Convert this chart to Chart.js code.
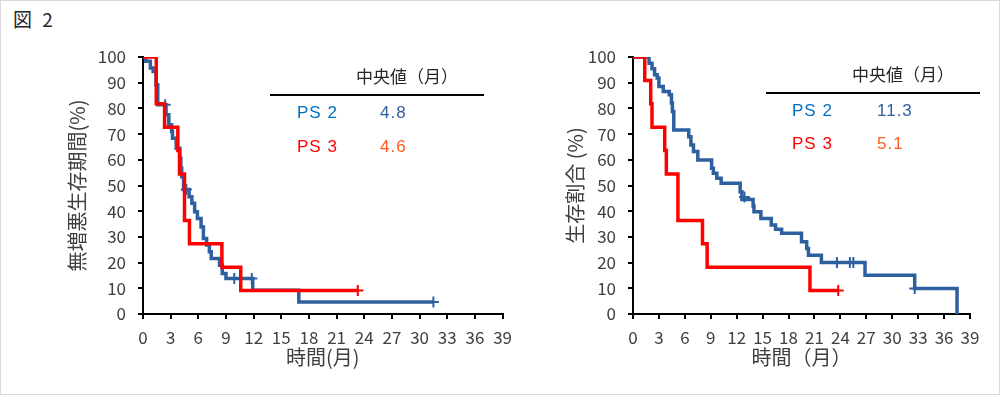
<!DOCTYPE html>
<html>
<head>
<meta charset="utf-8">
<script src="https://cdn.jsdelivr.net/npm/chart.js@4.4.1/dist/chart.umd.min.js"></script>
<style>
    body { margin: 0; background: #fff; }
    #page { position: relative; width: 1000px; height: 395px; overflow: hidden; font-family: 'Noto Sans CJK JP', sans-serif; }
    #frame { position: absolute; left: 0; top: 0; width: 1000px; height: 395px; box-sizing: border-box; border: 1px solid #d9d9d9; pointer-events: none; }
    #fig-title { position: absolute; left: 13px; top: 7px; font-size: 19px; line-height: 24px; color: #262626; word-spacing: 6px; }
    .wrap { position: absolute; top: 0; }
    .head { position: absolute; font-size: 17px; line-height: 20px; color: #262626; white-space: nowrap; }
    .rule { position: absolute; height: 2px; background: #000; }
    .cell { position: absolute; font-family: 'Liberation Sans', Arial, sans-serif; font-size: 17px; line-height: 20px; letter-spacing: 1px; white-space: nowrap; }
</style>
</head>
<body>
<div id="page">
    <div id="fig-title">図 2</div>
    <div class="wrap" style="left:0;"><canvas id="pfs-graph" width="520" height="395"></canvas></div>
    <div class="wrap" style="left:500px;"><canvas id="os-graph" width="500" height="395"></canvas></div>

    <div class="head" style="left:356px; top:66px;">中央値（月）</div>
    <div class="rule" style="left:270px; top:94px; width:214px;"></div>
    <div class="cell" id="pfs-ps2-label" style="left:297px; top:103px; color:#0070c0;"></div>
    <div class="cell" id="pfs-ps2-median" style="left:380px; top:103px; color:#2e5f9f;"></div>
    <div class="cell" id="pfs-ps3-label" style="left:297px; top:137px; color:#ff0000;"></div>
    <div class="cell" id="pfs-ps3-median" style="left:380px; top:137px; color:#ff5a1e;"></div>

    <div class="head" style="left:852px; top:64px;">中央値（月）</div>
    <div class="rule" style="left:766px; top:92px; width:214px;"></div>
    <div class="cell" id="os-ps2-label" style="left:792px; top:101px; color:#0070c0;"></div>
    <div class="cell" id="os-ps2-median" style="left:877px; top:101px; color:#2e5f9f;"></div>
    <div class="cell" id="os-ps3-label" style="left:792px; top:134px; color:#ff0000;"></div>
    <div class="cell" id="os-ps3-median" style="left:877px; top:134px; color:#ff5a1e;"></div>
    <div id="frame"></div>
</div>
<script>
const group_labels = ['PS 2', 'PS 3'];
const pfs_medians = ['4.8', '4.6'];
const os_medians = ['11.3', '5.1'];

const x_ticks_max = 39;
const x_ticks_step = 3;
const y_ticks_max = 100;
const y_ticks_step = 10;

// progression-free survival, PS 2 (time in months, % after each step)
const pfs_ps2_time = [0, 0.3, 0.8, 1.1, 1.4, 1.6, 2.5, 2.8, 3.1, 3.2, 3.6, 4.0, 4.1, 4.2, 4.4, 5.0, 5.3, 5.6, 5.9, 6.3, 6.55, 6.9, 7.2, 7.4, 8.3, 8.6, 9.0, 11.9, 16.9, 31.5];
const pfs_ps2_value = [100, 98.3, 95.7, 94.4, 89.2, 81.4, 77.5, 73.6, 71, 68.4, 64.5, 60.6, 56.7, 53.4, 48.4, 45.6, 43.1, 39.8, 37.2, 33.9, 29.4, 26.8, 24.2, 21.6, 19, 15.8, 13.8, 9.2, 4.7, 4.7];
const pfs_ps2_censor_time = [2.4, 4.7, 9.9, 11.8, 31.5];
const pfs_ps2_censor_value = [81.4, 48.4, 13.8, 13.8, 4.7];

// progression-free survival, PS 3
const pfs_ps3_time = [0, 1.44, 2.34, 3.78, 3.96, 4.5, 5.04, 8.56, 10.6, 23.3];
const pfs_ps3_value = [100, 81.8, 72.7, 63.6, 54.5, 36.4, 27.3, 18.2, 9.1, 9.1];
const pfs_ps3_censor_time = [23.3];
const pfs_ps3_censor_value = [9.1];

// overall survival, PS 2
const os_ps2_time = [0, 1.86, 2.2, 2.5, 2.8, 3.0, 3.5, 4.2, 4.45, 4.56, 4.72, 6.45, 6.7, 7.0, 7.5, 9.1, 9.3, 9.7, 10.2, 12.4, 12.6, 13.9, 14.0, 14.8, 16.0, 16.5, 17.2, 19.5, 20.1, 20.3, 21.8, 26.85, 32.6, 37.5];
const os_ps2_value = [100, 97.6, 95.4, 93.1, 91.8, 88.5, 86.6, 85.3, 82.1, 78.8, 71.6, 69, 65.8, 63.2, 59.9, 56.7, 54.8, 52.8, 50.9, 47.6, 44.6, 42, 39.8, 37.2, 34.6, 33, 31.4, 28.1, 25.5, 22.9, 20, 15.1, 9.9, 0];
const os_ps2_censor_time = [12.9, 23.6, 25.1, 25.5, 32.6];
const os_ps2_censor_value = [45.5, 20, 20, 20, 9.9];

// overall survival, PS 3
const os_ps3_time = [0, 1.36, 2.05, 2.2, 3.67, 3.86, 5.2, 8.04, 8.58, 20.48, 23.75];
const os_ps3_value = [100, 90.9, 81.8, 72.7, 63.6, 54.5, 36.4, 27.3, 18.2, 9.1, 9.1];
const os_ps3_censor_time = [23.75];
const os_ps3_censor_value = [9.1];

const ps2_color = '#2e5f9f';
const ps3_color = '#ff0000';
const text_color = '#404040';
const font_family = "'Noto Sans CJK JP', sans-serif";

function set_defaults() {
    Chart.defaults.color = text_color;
    Chart.defaults.font.family = font_family;
}

function set_labels(labels) {
    for (let id in labels) {
        document.getElementById(id).textContent = labels[id];
    }
}

function to_points(time_arr, value_arr) {
    let points = [];
    for (let i = 0; i < time_arr.length; ++i) {
        points.push({ x: time_arr[i], y: value_arr[i] });
    }
    return points;
}

function km_line(time_arr, value_arr, color) {
    return {
        data: to_points(time_arr, value_arr),
        showLine: true,
        stepped: true,
        borderColor: color,
        backgroundColor: color,
        borderWidth: 3.5,
        pointRadius: 0,
        borderJoinStyle: 'miter',
        borderCapStyle: 'butt'
    };
}

function censor_marks(time_arr, value_arr, color) {
    return {
        data: to_points(time_arr, value_arr),
        showLine: false,
        pointStyle: 'cross',
        pointRadius: 5.5,
        pointBorderWidth: 2,
        borderColor: color,
        backgroundColor: color
    };
}

function draw_km_graph(canvas_id, datasets, layout) {
    const config = {
        type: 'scatter',
        data: { datasets },
        options: {
            responsive: false,
            animation: false,
            layout: {
                padding: { left: 0, top: 57, right: layout.right, bottom: 0 }
            },
            plugins: {
                legend: { display: false },
                tooltip: { enabled: false }
            },
            scales: {
                x: {
                    type: 'linear',
                    position: 'bottom',
                    min: 0,
                    max: x_ticks_max,
                    ticks: {
                        stepSize: x_ticks_step,
                        color: text_color,
                        font: { size: 17 },
                        padding: 8,
                        maxRotation: 0,
                        autoSkip: false
                    },
                    grid: {
                        drawOnChartArea: false,
                        drawTicks: true,
                        tickLength: 5,
                        color: '#000',
                        lineWidth: 2
                    },
                    border: { color: '#000', width: 2 },
                    title: {
                        display: true,
                        text: layout.x_title,
                        color: text_color,
                        font: { size: 20 },
                        padding: { top: 0, bottom: 26 }
                    },
                    afterFit: (scale) => { scale.height = 81; }
                },
                y: {
                    min: 0,
                    max: y_ticks_max,
                    ticks: {
                        stepSize: y_ticks_step,
                        color: text_color,
                        font: { size: 17 },
                        padding: 12
                    },
                    grid: {
                        drawOnChartArea: false,
                        drawTicks: true,
                        tickLength: 5,
                        color: '#000',
                        lineWidth: 2
                    },
                    border: { color: '#000', width: 2 },
                    title: {
                        display: true,
                        text: layout.y_title,
                        color: text_color,
                        font: { size: 20 },
                        padding: { top: layout.y_title_offset, bottom: 0 }
                    },
                    afterFit: (scale) => { scale.width = layout.y_width; }
                }
            }
        }
    };
    return new Chart(document.getElementById(canvas_id), config);
}

set_defaults();

set_labels({
    'pfs-ps2-label': group_labels[0],
    'pfs-ps3-label': group_labels[1],
    'pfs-ps2-median': pfs_medians[0],
    'pfs-ps3-median': pfs_medians[1],
    'os-ps2-label': group_labels[0],
    'os-ps3-label': group_labels[1],
    'os-ps2-median': os_medians[0],
    'os-ps3-median': os_medians[1]
});

// red is drawn over blue, so it comes first
draw_km_graph('pfs-graph', [
    km_line(pfs_ps3_time, pfs_ps3_value, ps3_color),
    censor_marks(pfs_ps3_censor_time, pfs_ps3_censor_value, ps3_color),
    censor_marks(pfs_ps2_censor_time, pfs_ps2_censor_value, ps2_color),
    km_line(pfs_ps2_time, pfs_ps2_value, ps2_color)
], { right: 15, y_width: 143, y_title_offset: 65, x_title: '時間(月)', y_title: '無増悪生存期間(%)' });

draw_km_graph('os-graph', [
    km_line(os_ps3_time, os_ps3_value, ps3_color),
    censor_marks(os_ps3_censor_time, os_ps3_censor_value, ps3_color),
    censor_marks(os_ps2_censor_time, os_ps2_censor_value, ps2_color),
    km_line(os_ps2_time, os_ps2_value, ps2_color)
], { right: 30, y_width: 133, y_title_offset: 63, x_title: '時間（月）', y_title: '生存割合 (%)' });
</script>
</body>
</html>
